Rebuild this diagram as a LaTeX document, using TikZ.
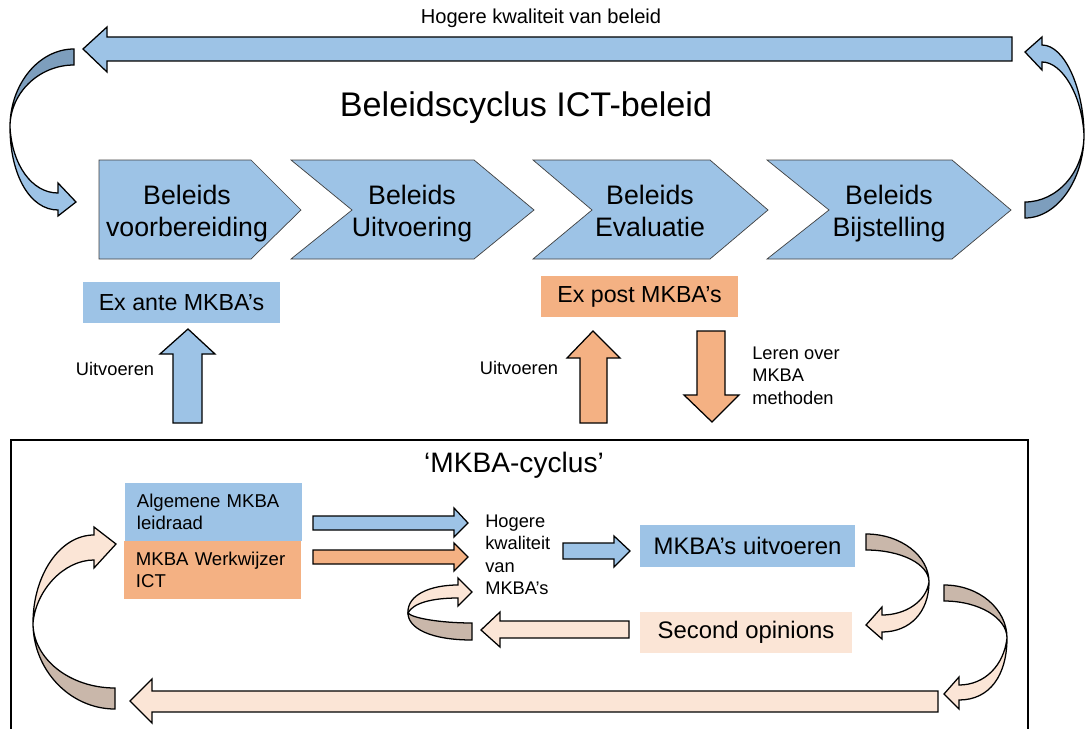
\documentclass[tikz,border=0pt]{standalone}
\usepackage{fontspec}
\setmainfont{Liberation Sans}
\definecolor{lichtblauw}{HTML}{9DC3E6}
\definecolor{donkerblauw}{HTML}{7D9EBD}
\definecolor{oranje}{HTML}{F4B183}
\definecolor{perzik}{HTML}{FBE5D6}
\definecolor{bruin}{HTML}{C9B7AA}

\begin{document}
\begin{tikzpicture}[x=0.025cm,y=-0.025cm,
	blok/.style={fill=#1,draw=black,line width=0.9pt,line join=miter},
	fase/.style={fill=lichtblauw,draw=black!75,line width=0.5pt},
	vak/.style={fill=#1,inner sep=0pt},
	groot/.style={font=\fontsize{24.3}{29}\selectfont},
	fasetekst/.style={font=\fontsize{19}{22.7}\selectfont,align=center},
	middel/.style={font=\fontsize{16.5}{20}\selectfont},
	klein/.style={font=\fontsize{13}{16}\selectfont,align=left}]

	\useasboundingbox (0,0) rectangle (1085,729);
	\clip (0,0) rectangle (1085,729);

	\draw[line width=0.9pt] (11,440) rectangle (1028,745);

	\filldraw[blok=lichtblauw] (1012,37) -- (107,37) -- (107,27) -- (83,49)
	-- (107,72) -- (107,61) -- (1012,61) -- cycle;
	\node[klein,font=\fontsize{14.3}{17}\selectfont] (hogerbeleid) at (541,18)
	{Hogere kwaliteit van beleid};
	\node[groot] (titel) at (526,108) {Beleidscyclus ICT-beleid};

	\filldraw[blok=donkerblauw] (10,127) .. controls (10,84) and (39,49) .. (74,49)
	-- (74,65) .. controls (39,65) and (10,93) .. (10,127) -- cycle;
	\filldraw[blok=lichtblauw] (10,127) .. controls (10,175) and (30,210) .. (58,210)
	-- (58,216) -- (76,202) -- (58,183) -- (58,193)
	.. controls (32,193) and (12,165) .. (10,127) -- cycle;

	\filldraw[blok=donkerblauw] (1084,135) .. controls (1084,180) and (1057,218) .. (1025,218)
	-- (1025,202) .. controls (1057,202) and (1084,172) .. (1084,135) -- cycle;
	\filldraw[blok=lichtblauw] (1084,135) .. controls (1084,90) and (1065,45) .. (1042,45)
	-- (1042,37) -- (1025,52) -- (1042,70) -- (1042,62)
	.. controls (1062,62) and (1082,95) .. (1084,135) -- cycle;

	\filldraw[fase] (99,160) -- (251,160) -- (301,210) -- (251,259) -- (99,259) -- cycle;
	\filldraw[fase] (291,160) -- (474,160) -- (534,210) -- (474,259) -- (291,259)
	-- (352,210) -- cycle;
	\filldraw[fase] (533,160) -- (710,160) -- (768,210) -- (710,259) -- (533,259)
	-- (592,210) -- cycle;
	\filldraw[fase] (767,160) -- (952,160) -- (1011,210) -- (952,259) -- (767,259)
	-- (829,210) -- cycle;
	\node[fasetekst] (voorbereiding) at (187,214) {Beleids\\voorbereiding};
	\node[fasetekst] (uitvoering) at (412,214) {Beleids\\Uitvoering};
	\node[fasetekst] (evaluatie) at (650,214) {Beleids\\Evaluatie\vphantom{g}};
	\node[fasetekst] (bijstelling) at (889,214) {Beleids\\Bijstelling};

	\node[vak=lichtblauw,middel,minimum width=4.925cm,minimum height=1.025cm]
	(exante) at (181.5,302.5) {Ex ante MKBA’s};
	\node[vak=oranje,middel,minimum width=4.925cm,minimum height=1.025cm]
	(expost) at (639.5,296.5) {Ex post MKBA’s};

	\filldraw[blok=lichtblauw] (173,423) -- (173,354) -- (160,354) -- (188,329)
	-- (215,354) -- (202,354) -- (202,423) -- cycle;
	\filldraw[blok=oranje] (580,423) -- (580,358) -- (567,358) -- (593,331)
	-- (620,358) -- (607,358) -- (607,423) -- cycle;
	\filldraw[blok=oranje] (697,331) -- (725,331) -- (725,395) -- (739,395)
	-- (712,422) -- (684,395) -- (697,395) -- cycle;
	\node[klein] (uitvoeren1) at (115,369) {Uitvoeren};
	\node[klein] (uitvoeren2) at (519,368) {Uitvoeren};
	\node[klein,anchor=west,inner sep=0pt] (leren) at (752,375.5)
	{Leren over\\MKBA\\methoden};

	\node[font=\fontsize{20}{24}\selectfont] (cyclus) at (514,465) {‘MKBA-cyclus’};

	\node[vak=lichtblauw,klein,font=\fontsize{13.2}{15.5}\selectfont,
	minimum width=4.425cm,minimum height=1.45cm,text width=3.825cm,inner xsep=0.3cm]
	(leidraad) at (213.5,512) {Algemene MKBA\\leidraad};
	\node[vak=oranje,klein,font=\fontsize{13.2}{15.5}\selectfont,
	minimum width=4.425cm,minimum height=1.45cm,text width=3.825cm,inner xsep=0.3cm]
	(werkwijzer) at (212.5,570) {MKBA Werkwijzer\\ICT};

	\filldraw[blok=lichtblauw] (313,516) -- (454,516) -- (454,508) -- (468,523)
	-- (454,537) -- (454,530) -- (313,530) -- cycle;
	\filldraw[blok=oranje] (313,550) -- (454,550) -- (454,543) -- (468,557)
	-- (454,571) -- (454,564) -- (313,564) -- cycle;
	\node[klein,anchor=west,inner sep=0pt] (hogermkba) at (485,555)
	{Hogere\\kwaliteit\\van\\MKBA’s};
	\filldraw[blok=lichtblauw] (563,543) -- (614,543) -- (614,536) -- (630,551)
	-- (614,567) -- (614,559) -- (563,559) -- cycle;

	\node[vak=lichtblauw,font=\fontsize{17}{20}\selectfont,minimum width=5.375cm,
	minimum height=1.05cm] (uitvoerenmkba) at (747.5,546) {MKBA’s uitvoeren};
	\node[vak=perzik,font=\fontsize{17}{20}\selectfont,minimum width=5.3cm,
	minimum height=1.025cm] (secondop) at (746,632.5) {Second opinions};

	\filldraw[blok=perzik] (629,621) -- (500,621) -- (500,612) -- (481,630)
	-- (500,647) -- (500,638) -- (629,638) -- cycle;
	\filldraw[blok=perzik] (938,691) -- (152,691) -- (152,679) -- (130,701)
	-- (152,723) -- (152,712) -- (938,712) -- cycle;

	\filldraw[blok=bruin] (929,582) .. controls (929,556) and (901,534) .. (866,534)
	-- (866,550) .. controls (901,550) and (929,564) .. (929,582) -- cycle;
	\filldraw[blok=perzik] (929,582) .. controls (929,612) and (910,632) .. (882,632)
	-- (882,639) -- (866,625) -- (882,607) -- (882,615)
	.. controls (905,615) and (926,602) .. (929,582) -- cycle;

	\filldraw[blok=bruin] (1007,638) .. controls (1007,609) and (979,585) .. (944,585)
	-- (944,601) .. controls (979,601) and (1007,618) .. (1007,638) -- cycle;
	\filldraw[blok=perzik] (1007,638) .. controls (1007,675) and (990,700) .. (959,700)
	-- (959,709) -- (944,694) -- (959,677) -- (959,685)
	.. controls (985,685) and (1004,665) .. (1007,638) -- cycle;

	\filldraw[blok=bruin] (408,613) .. controls (408,628) and (430,640) .. (472,640)
	-- (472,623) .. controls (440,623) and (412,618) .. (408,613) -- cycle;
	\filldraw[blok=perzik] (408,613) .. controls (407,595) and (430,585) .. (458,585)
	-- (458,578) -- (472,592) -- (458,606) -- (458,598)
	.. controls (432,598) and (413,603) .. (408,613) -- cycle;

	\filldraw[blok=bruin] (33,623) .. controls (33,670) and (70,709) .. (115,709)
	-- (115,688) .. controls (70,688) and (33,659) .. (33,623) -- cycle;
	\filldraw[blok=perzik] (33,623) .. controls (33,575) and (60,535) .. (94,535)
	-- (94,527) -- (116,544) -- (94,568) -- (94,560)
	.. controls (64,560) and (36,590) .. (33,623) -- cycle;
\end{tikzpicture}
\end{document}
